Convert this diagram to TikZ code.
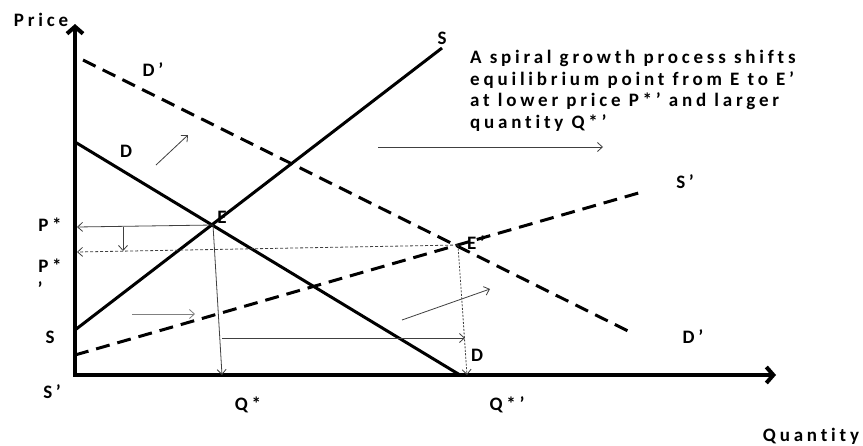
\documentclass[tikz,border=0pt]{standalone}
\usepackage{fontspec}
\newfontfamily\lblfont{Carlito Bold}[LetterSpace=20, Ligatures={NoCommon}]
\usetikzlibrary{arrows.meta}
\tikzset{
  lbl/.style={font=\fontsize{19}{19}\lblfont, inner sep=0pt},
  axisline/.style={line width=4pt, {Straight Barb[length=7pt,width=16pt]}-{Straight Barb[length=7pt,width=16pt]}},
  curve/.style={line width=3pt},
  dcurve/.style={line width=3pt, dash pattern=on 14pt off 8pt},
  thin/.style={line width=0.8pt, draw=black!75, -{Straight Barb[length=5pt,width=9pt]}},
}
\begin{document}
\begin{tikzpicture}[x=1pt,y=-1pt]
\useasboundingbox[fill=white] (0,0) rectangle (863,445);
% axes
\coordinate (Ytop) at (75,24);
\coordinate (O) at (75,375);
\coordinate (Xend) at (776,375);
\draw[axisline, line join=miter] (Ytop) -- (O) -- (Xend);
% curves
\coordinate (S0) at (75,330);  \coordinate (S1) at (442,48);
\coordinate (D0) at (75,142);  \coordinate (D1) at (460,375);
\coordinate (Dp0) at (83,60);  \coordinate (Dp1) at (630,332);
\coordinate (Sp0) at (75,355); \coordinate (Sp1) at (642,192);
\draw[curve] (S0) -- (S1);
\draw[curve] (D0) -- (D1);
\draw[dcurve] (Dp0) -- (Dp1);
\draw[dcurve] (Sp0) -- (Sp1);
\coordinate (E) at (213,225);
\coordinate (Ep) at (458,245);
% thin arrows
\coordinate (a1s) at (156,165); \coordinate (a1e) at (188,135);
\coordinate (a2s) at (378,147); \coordinate (a2e) at (603,147);
\coordinate (a3s) at (132,314); \coordinate (a3e) at (195,314);
\coordinate (a4s) at (402,320); \coordinate (a4e) at (490,289);
\coordinate (Pa) at (77,227);
\coordinate (a6s) at (123,227); \coordinate (a6e) at (123,251);
\coordinate (Pb) at (77,252);
\coordinate (Qa) at (222,375);
\coordinate (a9s) at (222,338); \coordinate (a9e) at (465,338);
\coordinate (Qb) at (467,375);
\draw[thin] (a1s) -- (a1e);
\draw[thin] (a2s) -- (a2e);
\draw[thin, draw=black!50] (a3s) -- (a3e);
\draw[thin] (a4s) -- (a4e);
\draw[thin] (E) -- (Pa);
\draw[thin] (a6s) -- (a6e);
\draw[thin, dash pattern=on 3pt off 2pt] (Ep) -- (Pb);
\draw[thin] (E) -- (Qa);
\draw[thin] (a9s) -- (a9e);
\draw[thin, dash pattern=on 2pt off 1.5pt] (Ep) -- (Qb);
% labels
\node[lbl] (price) at (41,20) {Price};
\node[lbl] (lS) at (442,38) {S};
\node[lbl] (lDp) at (153,70) {D’};
\node[lbl] (lD) at (126,151) {D};
\node[lbl] (lP) at (50,225) {P*};
\node[lbl] (lPp) at (50,266) {P*};
\node[lbl, anchor=north] (lPq) at (40,281) {’};
\node[lbl] (lSa) at (50,337) {S};
\node[lbl] (lSpa) at (52,392) {S’};
\node[lbl] (lE) at (222,217) {E};
\node[lbl] (lEp) at (476,243) {E’};
\node[lbl] (lSp) at (685,182) {S’};
\node[lbl] (lDpr) at (693,337) {D’};
\node[lbl] (lDb) at (477,355) {D};
\node[lbl] (lQ) at (248,405) {Q*};
\node[lbl] (lQp) at (507,405) {Q*’};
\node[lbl] (qty) at (811,436) {Quantity};
\node[lbl, anchor=base west] (t1) at (470,63) {A spiral growth process shifts};
\node[lbl, anchor=base west] (t2) at (470,85) {equilibrium point from E to E’};
\node[lbl, anchor=base west] (t3) at (470,106.5) {at lower price P*’ and larger};
\node[lbl, anchor=base west] (t4) at (470,128) {quantity Q*’};
\end{tikzpicture}
\end{document}
